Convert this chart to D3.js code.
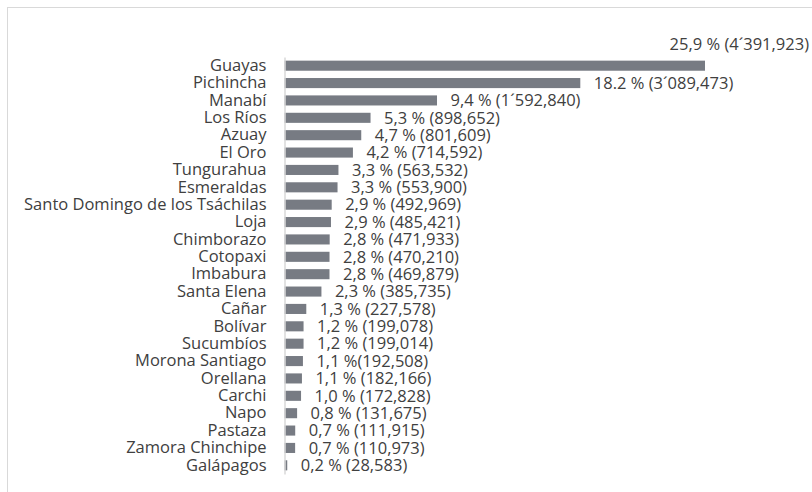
<!DOCTYPE html>
<html>
<head>
<meta charset="utf-8">
<script src="https://cdn.jsdelivr.net/npm/d3@7"></script>
<style>
  body { margin:0; background:#fff; }
  svg text { font-family: "Open Sans", sans-serif; fill:#404040; }
</style>
</head>
<body>
<svg id="chart" width="812" height="492"></svg>
<script>
// provinces, top to bottom
var provinces = ['Guayas','Pichincha','Manabí','Los Ríos','Azuay','El Oro','Tungurahua','Esmeraldas',
  'Santo Domingo de los Tsáchilas','Loja','Chimborazo','Cotopaxi','Imbabura','Santa Elena','Cañar',
  'Bolívar','Sucumbíos','Morona Santiago','Orellana','Carchi','Napo','Pastaza','Zamora Chinchipe','Galápagos'];

var population = [4391923,3089473,1592840,898652,801609,714592,563532,553900,492969,485421,471933,
  470210,469879,385735,227578,199078,199014,192508,182166,172828,131675,111915,110973,28583];

var valueLabels = ['25,9 % (4´391,923)','18.2 % (3´089,473)','9,4 % (1´592,840)','5,3 % (898,652)',
  '4,7 % (801,609)','4,2 % (714,592)','3,3 % (563,532)','3,3 % (553,900)','2,9 % (492,969)',
  '2,9 % (485,421)','2,8 % (471,933)','2,8 % (470,210)','2,8 % (469,879)','2,3 % (385,735)',
  '1,3 % (227,578)','1,2 % (199,078)','1,2 % (199,014)','1,1 %(192,508)','1,1 % (182,166)',
  '1,0 % (172,828)','0,8 % (131,675)','0,7 % (111,915)','0,7 % (110,973)','0,2 % (28,583)'];

var svg = d3.select('#chart');

// outer frame
svg.append('rect')
  .attr('x',7.5).attr('y',7.5).attr('width',820).attr('height',500)
  .attr('fill','none').attr('stroke','#d9d9d9');

var left = 284.5;
var fontSize = '16.5px';
var x = d3.scaleLinear().domain([0, d3.max(population)]).range([left, 705]);
var y = d3.scaleBand().domain(provinces).range([57, 474]).paddingInner(0.42).paddingOuter(0.21);

var data = provinces.map(function(p,i){ return {name:p, value:population[i], label:valueLabels[i]}; });

svg.append('g').selectAll('rect')
  .data(data).enter().append('rect')
  .attr('x', x(0))
  .attr('y', function(d){ return y(d.name); })
  .attr('width', function(d){ return x(d.value)-x(0); })
  .attr('height', y.bandwidth())
  .attr('fill','#777b83');

// category axis
var yAxis = svg.append('g')
  .attr('transform','translate('+left+',0)')
  .call(d3.axisLeft(y).tickSize(0).tickPadding(18));
yAxis.select('.domain').attr('stroke','#d9d9d9').attr('stroke-width',1.5);
yAxis.selectAll('text').style('font-size',fontSize).attr('fill','#404040').style('font-family','"Open Sans", sans-serif');

// value labels (first one sits above its bar, top right)
svg.append('g').selectAll('text')
  .data(data).enter().append('text')
  .attr('x', function(d,i){ return i==0 ? 809 : x(d.value)+13.5; })
  .attr('y', function(d,i){ return i==0 ? 44 : y(d.name)+y.bandwidth()/2; })
  .attr('dy','0.35em')
  .attr('text-anchor', function(d,i){ return i==0 ? 'end' : 'start'; })
  .style('font-size',fontSize)
  .text(function(d){ return d.label; });
</script>
</body>
</html>
